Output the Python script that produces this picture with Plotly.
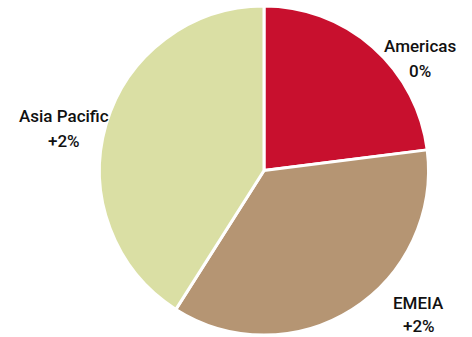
import plotly.graph_objects as go

regions = ["Americas", "EMEIA", "Asia Pacific"]
shares = [23, 36, 41]
changes = ["0%", "+2%", "+2%"]
colors = ["#C8102E", "#B59573", "#DADFA4"]

W, H = 472, 337
# label anchor positions in pixels (x, y from top) for name line and change line
label_px = {
    "Americas": ((420, 46), (420, 71)),
    "EMEIA": ((418, 303), (419, 326)),
    "Asia Pacific": ((64, 116), (64, 141)),
}

fig = go.Figure(go.Pie(
    labels=regions,
    values=shares,
    sort=False,
    direction="clockwise",
    rotation=0,
    textinfo="none",
    hoverinfo="label+percent",
    marker=dict(colors=colors, line=dict(color="white", width=3)),
    domain=dict(x=[99.5 / W, 428.5 / W], y=[2 / H, 331 / H]),
    showlegend=False,
))

font = dict(family="Roboto, Arial, sans-serif", size=17, color="#111111", weight=500)
for name, chg in zip(regions, changes):
    (x1, y1), (x2, y2) = label_px[name]
    for txt, (x, y) in ((name, (x1, y1)), (chg, (x2, y2))):
        fig.add_annotation(x=x / W, y=1 - y / H, xref="paper", yref="paper",
                           text=txt, showarrow=False,
                           xanchor="center", yanchor="middle", font=font)

fig.update_layout(width=W, height=H, margin=dict(l=0, r=0, t=0, b=0),
                  paper_bgcolor="white", plot_bgcolor="white")
fig.write_html("out.html", config={"displayModeBar": False},
               post_script="document.body.style.margin='0';")
